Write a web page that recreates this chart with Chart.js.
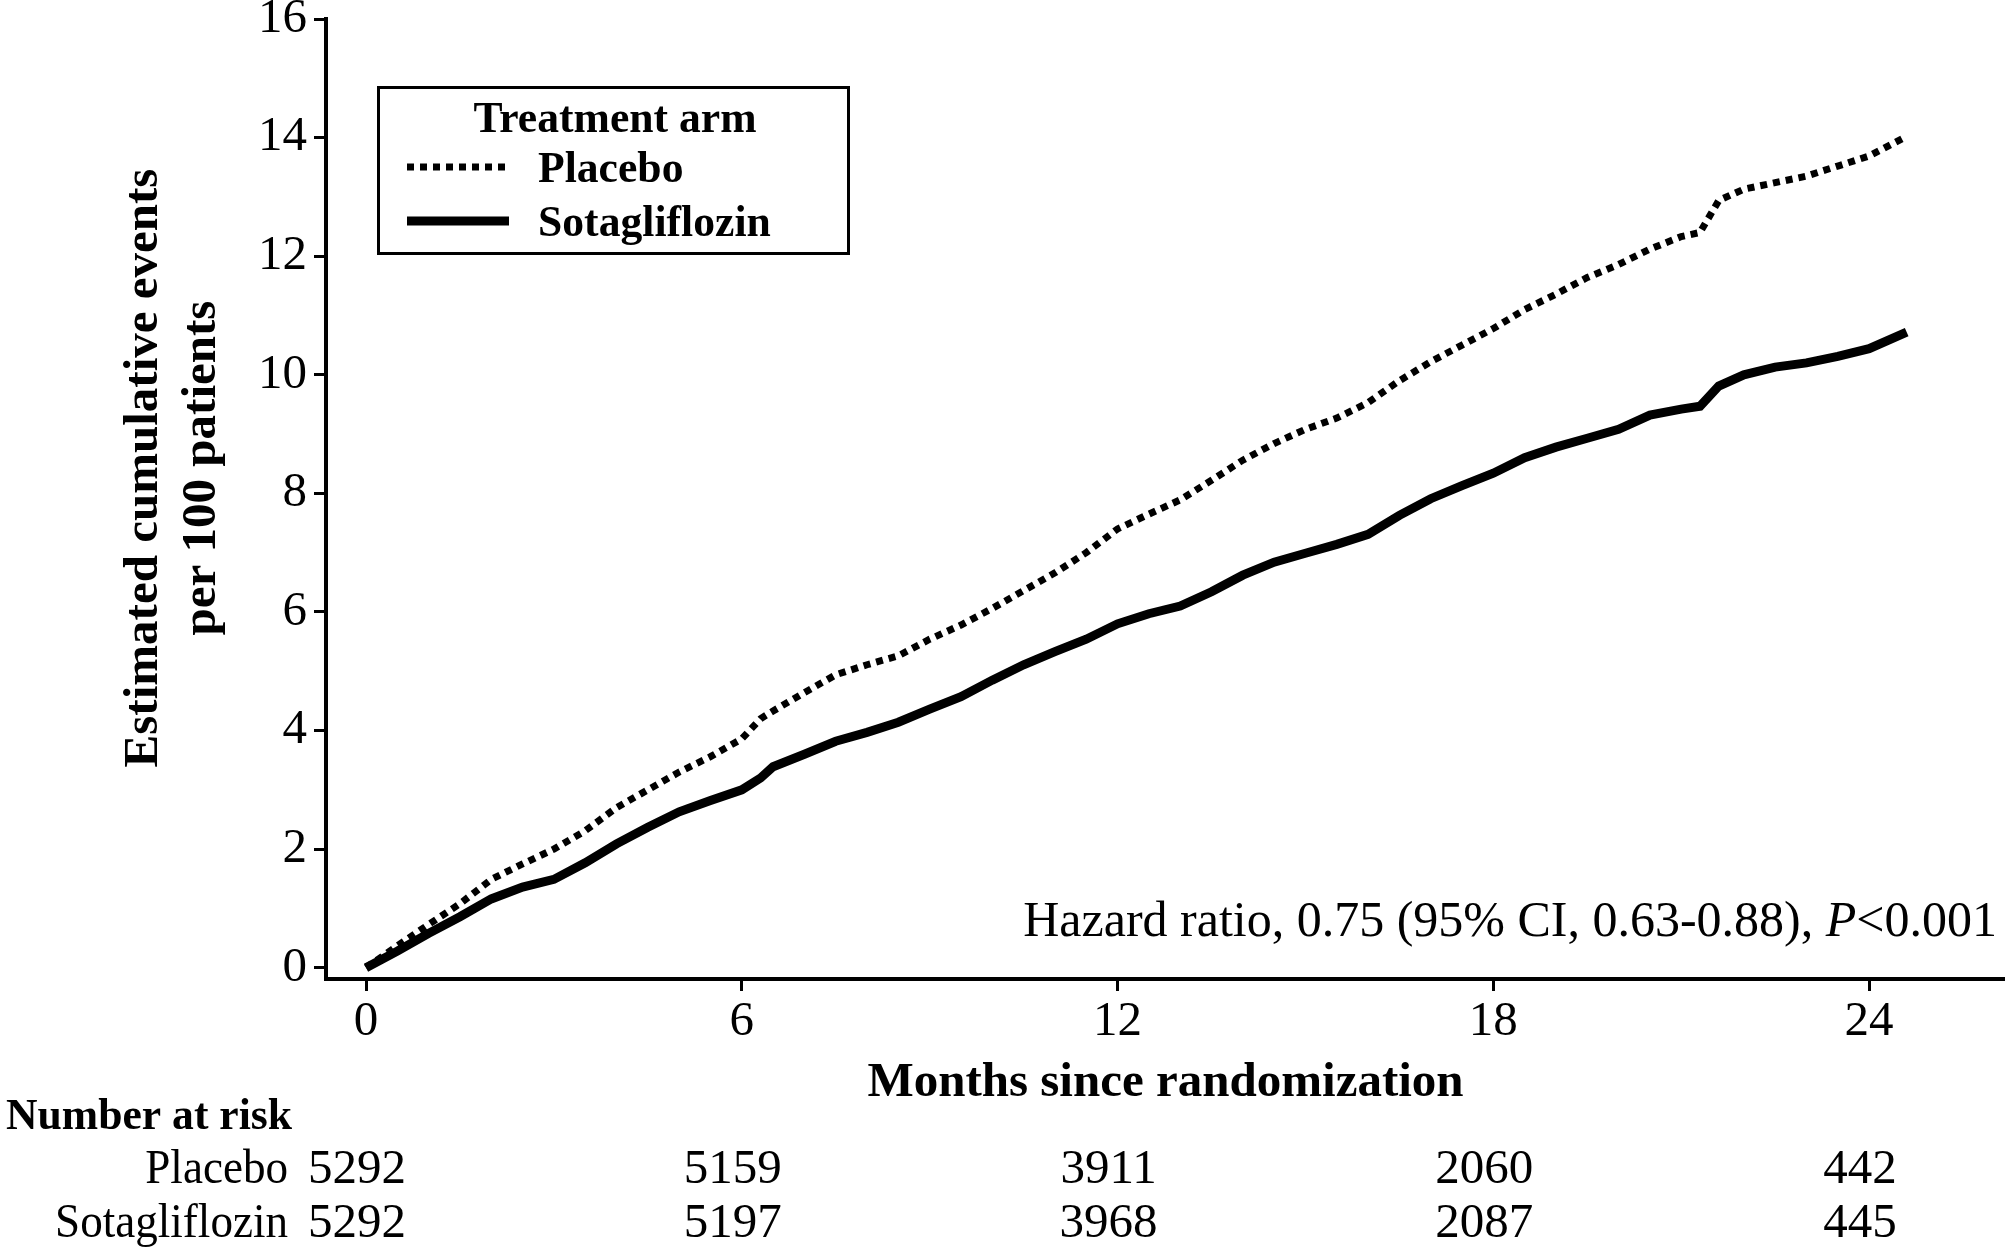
<!DOCTYPE html>
<html lang="en">
<head>
<meta charset="UTF-8">
<title>Estimated cumulative events per 100 patients</title>
<script src="https://cdn.jsdelivr.net/npm/chart.js"></script>
<style>
  body { margin: 0; background: #fff; }
  canvas { display: block; }
</style>
</head>
<body>
<canvas id="kmChart" width="2005" height="1247"></canvas>
<script>
// months since randomization (shared by both arms)
const months = [0, 0.5, 1, 1.5, 2, 2.5, 3, 3.5, 4, 4.5, 5, 5.5, 6, 6.3, 6.5, 7, 7.5, 8, 8.5, 9, 9.5,
  10, 10.5, 11, 11.5, 12, 12.5, 13, 13.5, 14, 14.5, 15, 15.5, 16, 16.5, 17, 17.5, 18, 18.5, 19, 19.5,
  20, 20.5, 21, 21.3, 21.6, 22, 22.5, 23, 23.5, 24, 24.6];
const placebo = [0, 0.37, 0.73, 1.08, 1.49, 1.75, 2.0, 2.31, 2.7, 3.0, 3.3, 3.56, 3.86, 4.2, 4.33, 4.64, 4.94, 5.11, 5.26, 5.54, 5.78,
  6.06, 6.36, 6.66, 7.0, 7.4, 7.65, 7.89, 8.22, 8.56, 8.84, 9.08, 9.27, 9.53, 9.9, 10.22, 10.5, 10.78, 11.1, 11.36, 11.64,
  11.86, 12.12, 12.33, 12.4, 12.94, 13.13, 13.24, 13.35, 13.52, 13.69, 14.02];
const sotagliflozin = [0, 0.28, 0.58, 0.86, 1.16, 1.36, 1.49, 1.77, 2.09, 2.37, 2.63, 2.82, 3.0, 3.2, 3.39, 3.6, 3.82, 3.97, 4.14, 4.36, 4.57,
  4.85, 5.11, 5.33, 5.54, 5.8, 5.97, 6.1, 6.34, 6.62, 6.84, 6.99, 7.14, 7.31, 7.63, 7.91, 8.13, 8.34, 8.6, 8.78, 8.93,
  9.08, 9.32, 9.42, 9.47, 9.81, 10.0, 10.13, 10.2, 10.31, 10.44, 10.72];

const xTicks = [0, 6, 12, 18, 24];
const yTicks = [0, 2, 4, 6, 8, 10, 12, 14, 16];
const riskPlacebo = [5292, 5159, 3911, 2060, 442];
const riskSota = [5292, 5197, 3968, 2087, 445];

const FONT = '"Liberation Serif", "Times New Roman", serif';

// text squeezed a little horizontally, like the original typesetting
function narrowText(ctx, text, x, y, sx) {
  ctx.save();
  ctx.translate(x, y);
  ctx.scale(sx, 1);
  ctx.fillText(text, 0, 0);
  ctx.restore();
}

// legend box, hazard ratio, y title and number-at-risk table
const annotations = {
  id: 'annotations',
  afterDraw(chart) {
    const ctx = chart.ctx;
    const xs = chart.scales.x;
    ctx.save();
    ctx.fillStyle = '#000';
    ctx.strokeStyle = '#000';

    // legend
    ctx.lineWidth = 3;
    ctx.strokeRect(378.5, 87.5, 470, 166);
    ctx.font = 'bold 45px ' + FONT;
    ctx.textAlign = 'center';
    ctx.textBaseline = 'middle';
    narrowText(ctx, 'Treatment arm', 615, 120, 0.97);
    const rows = [170, 224];
    chart.data.datasets.forEach((ds, i) => {
      ctx.save();
      ctx.lineWidth = ds.borderWidth;
      ctx.setLineDash(ds.borderDash || []);
      ctx.beginPath();
      ctx.moveTo(407, rows[i] - 3);
      ctx.lineTo(509, rows[i] - 3);
      ctx.stroke();
      ctx.restore();
      ctx.textAlign = 'left';
      narrowText(ctx, ds.label, 538, rows[i], 0.97);
    });

    // y axis title
    ctx.save();
    ctx.font = 'bold 49px ' + FONT;
    ctx.textAlign = 'center';
    ctx.translate(144, 468);
    ctx.rotate(-Math.PI / 2);
    ctx.fillText('Estimated cumulative events', 0, 0);
    ctx.fillText('per 100 patients', 0, 58);
    ctx.restore();

    // hazard ratio
    ctx.textBaseline = 'middle';
    const parts = [['Hazard ratio, 0.75 (95% CI, 0.63-0.88), ', ''], ['P', 'italic '], ['<0.001', '']];
    let total = 0;
    parts.forEach(p => { ctx.font = p[1] + '50px ' + FONT; total += ctx.measureText(p[0]).width; });
    let hx = 1997 - total;
    ctx.textAlign = 'left';
    parts.forEach(p => {
      ctx.font = p[1] + '50px ' + FONT;
      ctx.fillText(p[0], hx, 923);
      hx += ctx.measureText(p[0]).width;
    });

    // number at risk
    ctx.font = 'bold 45px ' + FONT;
    ctx.textAlign = 'left';
    narrowText(ctx, 'Number at risk', 6, 1117, 0.97);
    ctx.font = '49px ' + FONT;
    ctx.textAlign = 'right';
    narrowText(ctx, 'Placebo', 288, 1170, 0.92);
    narrowText(ctx, 'Sotagliflozin', 288, 1224, 0.92);
    ctx.textAlign = 'center';
    xTicks.forEach((t, i) => {
      const px = xs.getPixelForValue(t) - 9;
      ctx.fillText(String(riskPlacebo[i]), px, 1170);
      ctx.fillText(String(riskSota[i]), px, 1224);
    });
    ctx.restore();
  }
};

const ctx = document.getElementById('kmChart').getContext('2d');
new Chart(ctx, {
  type: 'line',
  data: {
    labels: months,
    datasets: [
      {
        label: 'Placebo',
        data: months.map((m, i) => ({ x: m, y: placebo[i] })),
        borderColor: '#000',
        borderWidth: 7,
        borderDash: [7, 6],
        pointRadius: 0,
        fill: false,
        tension: 0
      },
      {
        label: 'Sotagliflozin',
        data: months.map((m, i) => ({ x: m, y: sotagliflozin[i] })),
        borderColor: '#000',
        borderWidth: 9,
        pointRadius: 0,
        fill: false,
        tension: 0
      }
    ]
  },
  options: {
    responsive: false,
    devicePixelRatio: 1,
    animation: false,
    layout: { padding: { top: 19, left: 0, right: 0, bottom: 0 } },
    plugins: {
      legend: { display: false },
      tooltip: { enabled: false }
    },
    scales: {
      x: {
        type: 'linear',
        min: -0.639,
        max: 26.17,
        afterBuildTicks: s => { s.ticks = xTicks.map(v => ({ value: v })); },
        afterFit: s => { s.height = 268; s.paddingLeft = 0; s.paddingRight = 0; },
        ticks: {
          color: '#000',
          font: { family: FONT, size: 49 },
          padding: 2,
          maxRotation: 0,
          autoSkip: false
        },
        grid: {
          drawOnChartArea: false,
          drawTicks: true,
          tickLength: 12,
          tickWidth: 3,
          color: '#000'
        },
        border: { display: true, color: '#000', width: 4 },
        title: {
          display: true,
          text: 'Months since randomization',
          color: '#000',
          font: { family: FONT, size: 49, weight: 'bold' },
          padding: { top: 0, bottom: 134 }
        }
      },
      y: {
        type: 'linear',
        min: -0.19,
        max: 16,
        afterBuildTicks: s => { s.ticks = yTicks.map(v => ({ value: v })); },
        afterFit: s => { s.width = 326; s.paddingTop = 0; s.paddingBottom = 0; },
        ticks: {
          color: '#000',
          font: { family: FONT, size: 49 },
          padding: 7,
          autoSkip: false
        },
        grid: {
          drawOnChartArea: false,
          drawTicks: true,
          tickLength: 12,
          tickWidth: 3,
          color: '#000'
        },
        border: { display: true, color: '#000', width: 4 }
      }
    }
  },
  plugins: [annotations]
});
</script>
</body>
</html>
